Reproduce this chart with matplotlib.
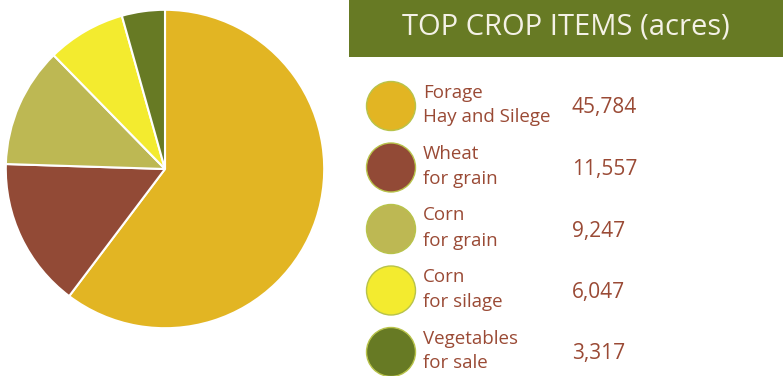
import matplotlib.pyplot as plt
from matplotlib.patches import Circle, Rectangle

plt.rcParams['font.family'] = ['Open Sans', 'DejaVu Sans']

# top crop items, acres
crops = ['Forage\nHay and Silege', 'Wheat\nfor grain', 'Corn\nfor grain',
         'Corn\nfor silage', 'Vegetables\nfor sale']
acres = [45784, 11557, 9247, 6047, 3317]
colors = ['#e2b523', '#924a36', '#bdb853', '#f3eb2f', '#677a24']

header_green = '#677a24'
text_brown = '#9a4a35'

W, H = 783, 376
fig = plt.figure(figsize=(W / 100, H / 100), dpi=100)

# pie on the left
ax_pie = fig.add_axes([5 / W, (H - 329) / H, 320 / W, 320 / H])
ax_pie.pie(acres, colors=colors, startangle=90, counterclock=False,
           wedgeprops=dict(edgecolor='white', linewidth=1.5))
ax_pie.set_xlim(-1.005, 1.005)
ax_pie.set_ylim(-1.005, 1.005)
ax_pie.set_aspect('equal')

# overlay in pixel units for header and legend
ax = fig.add_axes([0, 0, 1, 1])
ax.set_xlim(0, W)
ax.set_ylim(H, 0)
ax.axis('off')

ax.add_patch(Rectangle((349, 0), W - 349, 57, facecolor=header_green, edgecolor='none'))
ax.text(566, 27, 'TOP CROP ITEMS (acres)', color='#f4f1e6', fontsize=21,
        ha='center', va='center')

y0, step = 106, 61.5
for i, (name, val, c) in enumerate(zip(crops, acres, colors)):
    y = y0 + i * step
    ax.add_patch(Circle((391, y), 24.5, facecolor=c, edgecolor='#b8c34a', linewidth=1))
    ax.text(423, y - 1, name, color=text_brown, fontsize=13.5, ha='left', va='center',
            linespacing=1.5)
    ax.text(572, y + 2, f'{val:,}', color=text_brown, fontsize=15, ha='left', va='center')

fig.savefig('out.png', dpi=100)
